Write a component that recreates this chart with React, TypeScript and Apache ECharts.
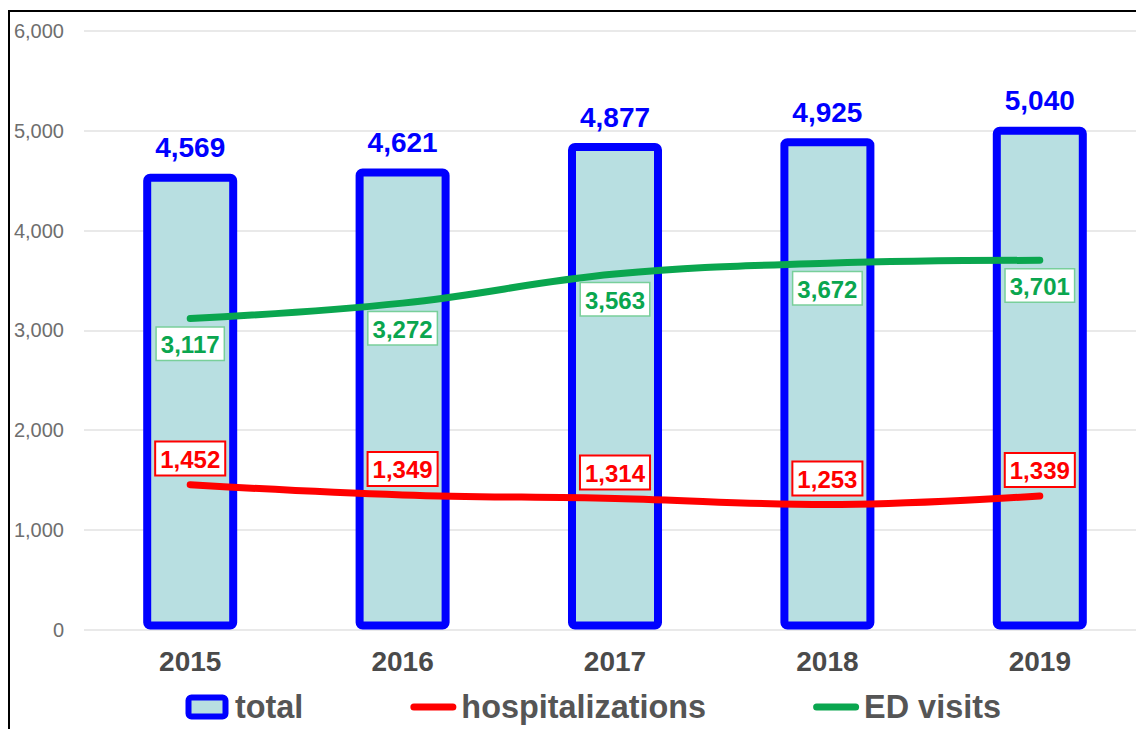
import React, { useEffect, useRef } from "react";
import * as echarts from "echarts";

const years = ["2015", "2016", "2017", "2018", "2019"];
const totals = [4569, 4621, 4877, 4925, 5040];
const hospitalizations = [1452, 1349, 1314, 1253, 1339];
const edVisits = [3117, 3272, 3563, 3672, 3701];
const yTicks = { min: 0, max: 6000, interval: 1000 };

const BLUE = "#0000ff";
const BAR_FILL = "#b8dfe1";
const RED = "#ff0000";
const GREEN = "#0aa64f";
const FONT = "'Liberation Sans', Arial, sans-serif";

const fmt = (v: number) => Number(v).toLocaleString("en-US");

// legend glyphs: a rounded box for the bars, a rounded stroke for the lines
const BOX_ICON =
  "path://M3,0 H34 A3,3 0 0 1 37,3 V16 A3,3 0 0 1 34,19 H3 A3,3 0 0 1 0,16 V3 A3,3 0 0 1 3,0 Z";
const LINE_ICON =
  "path://M3.5,0 H42.5 A3.5,3.5 0 0 1 42.5,7 H3.5 A3.5,3.5 0 0 1 3.5,0 Z";

export default function App() {
  const ref = useRef<HTMLDivElement>(null);

  useEffect(() => {
    if (!ref.current) return;
    const chart = echarts.init(ref.current, null, { renderer: "svg" });
    chart.setOption({
      animation: false,
      backgroundColor: "#ffffff",
      textStyle: { fontFamily: FONT },
      grid: { left: 74, right: 0, top: 19, bottom: 99.5, containLabel: false },
      legend: {
        left: 175.5,
        top: 679,
        padding: 0,
        itemWidth: 46,
        itemHeight: 19,
        itemGap: 107,
        itemTextGap: 9,
        textStyle: { fontFamily: FONT, fontSize: 32.4, fontWeight: "bold", color: "#555555" },
        data: [
          { name: "total", icon: BOX_ICON, itemStyle: { color: BAR_FILL, borderColor: BLUE, borderWidth: 6 } },
          { name: "hospitalizations", icon: LINE_ICON, itemStyle: { color: RED, borderWidth: 0 } },
          { name: "ED visits", icon: LINE_ICON, itemStyle: { color: GREEN, borderWidth: 0 } },
        ],
      },
      xAxis: {
        type: "category",
        data: years,
        axisLine: { show: false },
        axisTick: { show: false },
        axisLabel: { margin: 18, fontFamily: FONT, fontSize: 28, fontWeight: "bold", color: "#4a4a4a" },
      },
      yAxis: {
        type: "value",
        min: yTicks.min,
        max: yTicks.max,
        interval: yTicks.interval,
        axisLine: { show: false },
        axisTick: { show: false },
        splitLine: { lineStyle: { color: "#e2e2e2", width: 1.5 } },
        axisLabel: { margin: 20, fontFamily: FONT, fontSize: 20, color: "#6e6e6e", formatter: fmt },
      },
      series: [
        {
          name: "total",
          type: "bar",
          data: totals,
          barWidth: 94,
          itemStyle: { color: BAR_FILL, borderColor: BLUE, borderWidth: 8, borderRadius: 3 },
          label: {
            show: true,
            position: "top",
            distance: 12,
            formatter: (p: any) => fmt(p.value),
            fontFamily: FONT,
            fontSize: 28,
            fontWeight: "bold",
            color: BLUE,
          },
          z: 1,
        },
        {
          name: "hospitalizations",
          type: "line",
          data: hospitalizations,
          smooth: 0.4,
          symbol: "circle",
          symbolSize: 0.1,
          itemStyle: { color: RED },
          lineStyle: { color: RED, width: 7, cap: "round" },
          label: {
            show: true,
            position: "top",
            distance: 10,
            formatter: (p: any) => fmt(p.value),
            fontFamily: FONT,
            fontSize: 24,
            fontWeight: "bold",
            color: RED,
            backgroundColor: "#ffffff",
            borderColor: RED,
            borderWidth: 2,
            padding: [5, 4, 3, 4],
          },
          z: 3,
        },
        {
          name: "ED visits",
          type: "line",
          data: edVisits,
          smooth: 0.4,
          symbol: "circle",
          symbolSize: 0.1,
          itemStyle: { color: GREEN },
          lineStyle: { color: GREEN, width: 7, cap: "round" },
          label: {
            show: true,
            position: "bottom",
            distance: 9,
            formatter: (p: any) => fmt(p.value),
            fontFamily: FONT,
            fontSize: 24,
            fontWeight: "bold",
            color: GREEN,
            backgroundColor: "#ffffff",
            borderColor: "#78cf9a",
            borderWidth: 1.5,
            padding: [5, 4, 3, 4],
          },
          z: 3,
        },
      ],
    });
    return () => chart.dispose();
  }, []);

  return (
    <div
      style={{
        position: "absolute",
        left: 8,
        top: 10,
        width: 1128,
        height: 719,
        boxSizing: "border-box",
        borderTop: "2px solid #000",
        borderLeft: "2px solid #000",
        background: "#fff",
        overflow: "hidden",
      }}
    >
      <div ref={ref} style={{ width: 1136, height: 717 }} />
    </div>
  );
}
